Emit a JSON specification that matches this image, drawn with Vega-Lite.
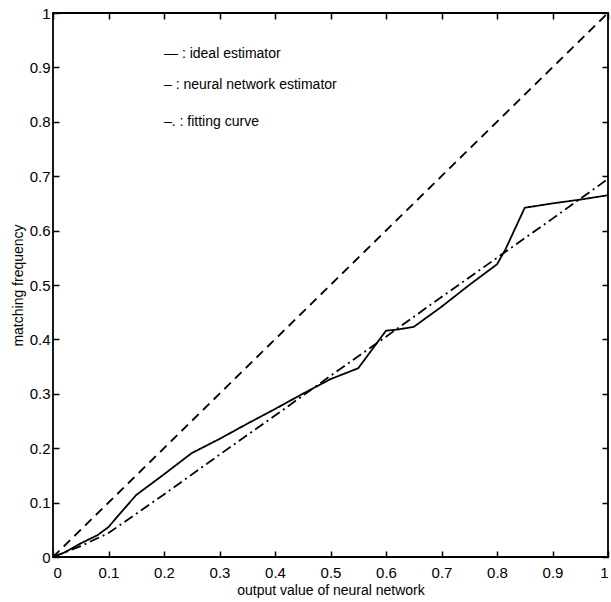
{
  "$schema": "https://vega.github.io/schema/vega-lite/v6.json",
  "width": 555,
  "height": 544,
  "autosize": {"type": "none"},
  "padding": {"left": 53, "top": 13, "right": 3, "bottom": 45},
  "background": "white",
  "config": {
    "font": "Liberation Sans",
    "view": {"stroke": "black", "strokeWidth": 1.8},
    "axis": {
      "domain": false,
      "grid": false,
      "tickColor": "black",
      "tickSize": -6,
      "tickWidth": 1.5,
      "labelColor": "black",
      "labelFont": "Liberation Sans",
      "labelFontSize": 15,
      "titleFont": "Liberation Sans",
      "titleFontSize": 14,
      "titleFontWeight": "normal",
      "titleColor": "black"
    }
  },
  "datasets": {
    "curves": [
      {"series": "ideal", "x": 0, "y": 0},
      {"series": "ideal", "x": 1, "y": 1},
      {"series": "nn", "x": 0, "y": 0},
      {"series": "nn", "x": 0.02, "y": 0.008},
      {"series": "nn", "x": 0.05, "y": 0.025},
      {"series": "nn", "x": 0.08, "y": 0.04},
      {"series": "nn", "x": 0.1, "y": 0.055},
      {"series": "nn", "x": 0.125, "y": 0.085},
      {"series": "nn", "x": 0.15, "y": 0.114},
      {"series": "nn", "x": 0.2, "y": 0.152},
      {"series": "nn", "x": 0.25, "y": 0.191},
      {"series": "nn", "x": 0.3, "y": 0.217},
      {"series": "nn", "x": 0.35, "y": 0.245},
      {"series": "nn", "x": 0.4, "y": 0.272},
      {"series": "nn", "x": 0.45, "y": 0.3},
      {"series": "nn", "x": 0.5, "y": 0.327},
      {"series": "nn", "x": 0.55, "y": 0.347},
      {"series": "nn", "x": 0.6, "y": 0.416},
      {"series": "nn", "x": 0.62, "y": 0.418},
      {"series": "nn", "x": 0.65, "y": 0.423},
      {"series": "nn", "x": 0.7, "y": 0.46},
      {"series": "nn", "x": 0.75, "y": 0.5},
      {"series": "nn", "x": 0.8, "y": 0.538},
      {"series": "nn", "x": 0.815, "y": 0.565},
      {"series": "nn", "x": 0.85, "y": 0.642},
      {"series": "nn", "x": 0.9, "y": 0.65},
      {"series": "nn", "x": 0.95, "y": 0.657},
      {"series": "nn", "x": 1, "y": 0.665},
      {"series": "fit", "x": 0, "y": 0},
      {"series": "fit", "x": 0.05, "y": 0.02},
      {"series": "fit", "x": 0.1, "y": 0.044},
      {"series": "fit", "x": 0.2, "y": 0.115},
      {"series": "fit", "x": 0.3, "y": 0.188},
      {"series": "fit", "x": 0.4, "y": 0.26},
      {"series": "fit", "x": 0.5, "y": 0.333},
      {"series": "fit", "x": 0.6, "y": 0.405},
      {"series": "fit", "x": 0.7, "y": 0.478},
      {"series": "fit", "x": 0.8, "y": 0.55},
      {"series": "fit", "x": 0.9, "y": 0.622},
      {"series": "fit", "x": 1, "y": 0.695}
    ],
    "notes": [
      {"label": "— : ideal estimator", "x": 0.2, "y": 0.925},
      {"label": "– : neural network estimator", "x": 0.2, "y": 0.868},
      {"label": "–. : fitting curve", "x": 0.2, "y": 0.8}
    ]
  },
  "layer": [
    {
      "data": {"name": "curves"},
      "mark": {"type": "line", "color": "black", "strokeWidth": 1.8},
      "encoding": {
        "x": {
          "field": "x", "type": "quantitative",
          "scale": {"domain": [0, 1], "nice": false, "zero": false},
          "axis": {"orient": "bottom", "values": [0, 0.1, 0.2, 0.3, 0.4, 0.5, 0.6, 0.7, 0.8, 0.9, 1], "labelPadding": 14, "title": "output value of neural network", "titlePadding": 3, "labelExpr": "datum.value == 0 ? '0' : datum.value == 1 ? '1' : format(datum.value, '.1f')"}
        },
        "y": {
          "field": "y", "type": "quantitative",
          "scale": {"domain": [0, 1], "nice": false, "zero": false},
          "axis": {"orient": "left", "values": [0, 0.1, 0.2, 0.3, 0.4, 0.5, 0.6, 0.7, 0.8, 0.9, 1], "labelPadding": 9, "title": "matching frequency", "titlePadding": 4, "labelExpr": "datum.value == 0 ? '0' : datum.value == 1 ? '1' : format(datum.value, '.1f')"}
        },
        "strokeDash": {
          "field": "series", "type": "nominal",
          "scale": {"domain": ["ideal", "nn", "fit"], "range": [[9, 6], [1, 0], [10, 4, 2, 4]]},
          "legend": null
        }
      }
    },
    {
      "data": {"name": "curves"},
      "mark": {"type": "point", "opacity": 0},
      "encoding": {
        "x": {"field": "x", "type": "quantitative", "axis": {"orient": "top", "values": [0, 0.1, 0.2, 0.3, 0.4, 0.5, 0.6, 0.7, 0.8, 0.9, 1], "labels": false, "title": null}},
        "y": {"field": "y", "type": "quantitative", "axis": {"orient": "right", "values": [0, 0.1, 0.2, 0.3, 0.4, 0.5, 0.6, 0.7, 0.8, 0.9, 1], "labels": false, "title": null}}
      }
    },
    {
      "data": {"name": "notes"},
      "mark": {"type": "text", "align": "left", "baseline": "middle", "fontSize": 14, "font": "Liberation Sans", "color": "black"},
      "encoding": {
        "x": {"field": "x", "type": "quantitative", "axis": null},
        "y": {"field": "y", "type": "quantitative", "axis": null},
        "text": {"field": "label"}
      }
    }
  ],
  "resolve": {"axis": {"x": "independent", "y": "independent"}}
}
